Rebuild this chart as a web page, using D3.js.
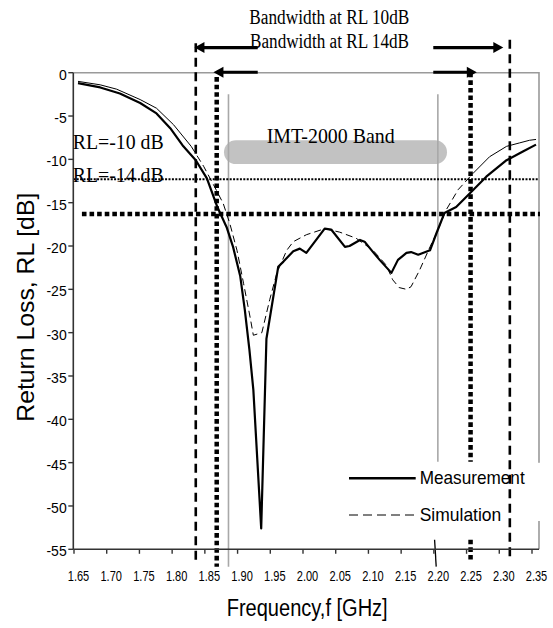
<!DOCTYPE html>
<html><head><meta charset="utf-8">
<script src="https://cdn.jsdelivr.net/npm/d3@7"></script>
<style>body{margin:0;background:#fff}svg{display:block}</style>
</head><body>
<script>
// ---- data ----
const measFreq = [1.65,1.684,1.714,1.745,1.770,1.791,1.811,1.830,1.847,1.863,1.877,1.887,1.898,1.905,1.912,1.918,1.930,1.938,1.956,1.964,1.979,1.989,1.999,2.027,2.037,2.058,2.065,2.081,2.088,2.101,2.111,2.129,2.139,2.152,2.159,2.170,2.188,2.198,2.210,2.228,2.249,2.274,2.305,2.330,2.350];
const measRL   = [-1.2,-1.7,-2.4,-3.5,-4.7,-6.4,-8.5,-10.1,-12.2,-15.5,-17.8,-20.1,-23.5,-27.4,-32.0,-36.6,-52.6,-30.7,-22.4,-21.8,-20.6,-20.3,-20.8,-18.0,-18.1,-20.1,-20.0,-19.3,-19.5,-20.7,-21.6,-23.1,-21.6,-20.8,-20.7,-21.0,-20.5,-18.5,-16.2,-15.5,-13.9,-12.0,-10.1,-9.1,-8.3];
const simFreq  = [1.65,1.684,1.709,1.745,1.770,1.796,1.823,1.842,1.859,1.872,1.882,1.893,1.903,1.913,1.918,1.931,1.943,1.954,1.969,1.979,1.999,2.027,2.050,2.075,2.101,2.121,2.131,2.141,2.152,2.159,2.172,2.188,2.198,2.213,2.231,2.254,2.279,2.305,2.325,2.340,2.350];
const simRL    = [-1.0,-1.4,-1.9,-3.1,-4.1,-6.0,-8.5,-10.8,-13.2,-15.1,-17.4,-20.5,-24.3,-28.2,-30.3,-30.0,-26.2,-23.1,-20.5,-19.5,-18.7,-18.0,-18.4,-19.1,-20.5,-22.2,-23.9,-24.8,-25.0,-24.7,-22.8,-20.1,-18.5,-15.8,-13.5,-11.6,-9.7,-8.5,-8.1,-7.8,-7.7];
const xTicks = [1.65,1.70,1.75,1.80,1.85,1.90,1.95,2.00,2.05,2.10,2.15,2.20,2.25,2.30,2.35];
const yTicks = [0,-5,-10,-15,-20,-25,-30,-35,-40,-45,-50,-55];
const seriesNames = ["Measurement","Simulation"];
const bandEdges = [1.88, 2.20];           // IMT-2000 band (GHz)
const bw10 = [1.83, 2.31];                // bandwidth at RL 10 dB
const bw14 = [1.862, 2.25];               // bandwidth at RL 14 dB
const rlLines = [-12.3, -16.3];           // RL reference levels drawn

const W = 553, H = 628;
const svg = d3.select("body").append("svg").attr("width", W).attr("height", H);
svg.append("rect").attr("width", W).attr("height", H).attr("fill", "#fff");

const x = d3.scaleLinear().domain([1.65, 2.35]).range([78, 536]);
const y = d3.scaleLinear().domain([-55, 0]).range([549.3, 72.7]);
const L = 73.3, R = 539, T = y(0), B = y(-55);
const serif = "'Liberation Serif','Times New Roman',serif";
const sans = "'Liberation Sans',Arial,sans-serif";

// plot border (gray top/right)
svg.append("path").attr("d", `M${L},${T}H${R}V${B}`).attr("fill","none").attr("stroke","#9a9a9a").attr("stroke-width",1.6);

// IMT band gray bar
svg.append("rect").attr("x", 224).attr("y", y(-7.8)).attr("width", 447-224).attr("height", y(-10.55)-y(-7.8))
  .attr("rx", 12).attr("fill", "#c2c2c2");

// band edge gray lines
svg.append("line").attr("x1", x(bandEdges[0])).attr("x2", x(bandEdges[0])).attr("y1", y(-2.5)).attr("y2", y(-57))
  .attr("stroke","#a8a8a8").attr("stroke-width",1.6);
svg.append("line").attr("x1", x(bandEdges[1])).attr("x2", x(bandEdges[1])).attr("y1", y(-2.5)).attr("y2", y(-44.9))
  .attr("stroke","#a8a8a8").attr("stroke-width",1.6);

// horizontal RL lines
svg.append("line").attr("x1", L).attr("x2", R).attr("y1", y(rlLines[0])).attr("y2", y(rlLines[0]))
  .attr("stroke","#000").attr("stroke-width",2).attr("stroke-dasharray","2,1.4");
svg.append("line").attr("x1", x(1.656)).attr("x2", R+1).attr("y1", y(rlLines[1])).attr("y2", y(rlLines[1]))
  .attr("stroke","#000").attr("stroke-width",4.5).attr("stroke-dasharray","4.6,3");

// thick dotted verticals (RL 14 dB)
svg.append("line").attr("x1", x(bw14[0])).attr("x2", x(bw14[0])).attr("y1", y(-0.5)).attr("y2", y(-57))
  .attr("stroke","#000").attr("stroke-width",4.5).attr("stroke-dasharray","4.6,3");
svg.append("line").attr("x1", x(bw14[1])).attr("x2", x(bw14[1])).attr("y1", y(0)).attr("y2", y(-44.9))
  .attr("stroke","#000").attr("stroke-width",4.5).attr("stroke-dasharray","4.6,3");
svg.append("line").attr("x1", x(bw14[1])).attr("x2", x(bw14[1])).attr("y1", y(-53.9)).attr("y2", y(-56.4))
  .attr("stroke","#000").attr("stroke-width",4.5).attr("stroke-dasharray","4.6,3");

// dashed left vertical (RL 10 dB)
svg.append("line").attr("x1", x(bw10[0])).attr("x2", x(bw10[0])).attr("y1", y(3.4)).attr("y2", y(-56.7))
  .attr("stroke","#000").attr("stroke-width",2.6).attr("stroke-dasharray","9,5.5");

// short slanted mark near 2.20
svg.append("line").attr("x1", x(2.195)).attr("x2", x(2.1975)).attr("y1", y(-53.9)).attr("y2", y(-57))
  .attr("stroke","#000").attr("stroke-width",1.3);

// curves
const line = d3.line().x(d => x(d[0])).y(d => y(d[1]));
const meas = measFreq.map((f,i) => [f, measRL[i]]);
const sim = simFreq.map((f,i) => [f, simRL[i]]);
svg.append("path").attr("d", line(sim.filter(d => d[0] <= 1.823))).attr("fill","none").attr("stroke","#000").attr("stroke-width",1);
svg.append("path").attr("d", line(sim.filter(d => d[0] >= 1.823 && d[0] <= 2.254))).attr("fill","none").attr("stroke","#000")
  .attr("stroke-width",1).attr("stroke-dasharray","7,4");
svg.append("path").attr("d", line(sim.filter(d => d[0] >= 2.254))).attr("fill","none").attr("stroke","#000").attr("stroke-width",1);
svg.append("path").attr("d", line(meas)).attr("fill","none").attr("stroke","#000").attr("stroke-width",2.2).attr("stroke-linejoin","round");

// legend box (white) and legend
svg.append("rect").attr("x", 345).attr("y", y(-44.9)+1).attr("width", R+3-345).attr("height", 521-(y(-44.9)+1)).attr("fill","#fff");
const legY = [478.3, 515];
svg.append("line").attr("x1",349).attr("x2",415.7).attr("y1",legY[0]).attr("y2",legY[0]).attr("stroke","#000").attr("stroke-width",2.4);
svg.append("line").attr("x1",349).attr("x2",415.7).attr("y1",legY[1]).attr("y2",legY[1]).attr("stroke","#000").attr("stroke-width",1).attr("stroke-dasharray","9,5");
svg.append("text").attr("x",419.7).attr("y",484.3).attr("font-family",sans).attr("font-size",19)
  .attr("textLength",105).attr("lengthAdjust","spacingAndGlyphs").text(seriesNames[0]);
svg.append("text").attr("x",419.7).attr("y",520.5).attr("font-family",sans).attr("font-size",19)
  .attr("textLength",81.6).attr("lengthAdjust","spacingAndGlyphs").text(seriesNames[1]);

// dashed right vertical (RL 10 dB) drawn over legend
svg.append("line").attr("x1", x(bw10[1])).attr("x2", x(bw10[1])).attr("y1", y(3.8)).attr("y2", y(-56))
  .attr("stroke","#000").attr("stroke-width",2.6).attr("stroke-dasharray","9,5.5");

// axes
svg.append("line").attr("x1",L).attr("x2",L).attr("y1",T).attr("y2",B).attr("stroke","#333").attr("stroke-width",1.6);
svg.append("line").attr("x1",L).attr("x2",R).attr("y1",B).attr("y2",B).attr("stroke","#333").attr("stroke-width",1.6);
const yAx = svg.append("g");
yTicks.forEach(v => {
  yAx.append("line").attr("x1",L-5).attr("x2",L).attr("y1",y(v)).attr("y2",y(v)).attr("stroke","#333").attr("stroke-width",1.4);
  yAx.append("text").attr("x",66.7).attr("y",y(v)+7).attr("text-anchor","end").attr("font-family",sans).attr("font-size",14).text(v);
});
const xAx = svg.append("g");
xTicks.forEach(v => {
  xAx.append("line").attr("x1",x(v)-4).attr("x2",x(v)-4).attr("y1",B).attr("y2",B+4.5).attr("stroke","#333").attr("stroke-width",1.4);
  xAx.append("text").attr("x",x(v)+0.5).attr("y",580.7).attr("text-anchor","middle").attr("font-family",sans).attr("font-size",14.5)
    .attr("textLength",21.5).attr("lengthAdjust","spacingAndGlyphs").text(v.toFixed(2));
});

// axis titles
svg.append("text").attr("transform","translate(33.5,421.7) rotate(-90)").attr("font-family",sans).attr("font-size",24)
  .attr("textLength",229).attr("lengthAdjust","spacingAndGlyphs").text("Return Loss, RL [dB]");
svg.append("text").attr("x",226.7).attr("y",615.5).attr("font-family",sans).attr("font-size",23)
  .attr("textLength",161).attr("lengthAdjust","spacingAndGlyphs").text("Frequency,f [GHz]");

// annotation texts
svg.append("text").attr("x",249.3).attr("y",24).attr("font-family",serif).attr("font-size",20)
  .attr("textLength",160).attr("lengthAdjust","spacingAndGlyphs").text("Bandwidth at RL 10dB");
svg.append("text").attr("x",250).attr("y",48).attr("font-family",serif).attr("font-size",20)
  .attr("textLength",159).attr("lengthAdjust","spacingAndGlyphs").text("Bandwidth at RL 14dB");
svg.append("text").attr("x",266.7).attr("y",143.3).attr("font-family",serif).attr("font-size",22)
  .attr("textLength",128).attr("lengthAdjust","spacingAndGlyphs").text("IMT-2000 Band");
svg.append("text").attr("x",72.7).attr("y",149).attr("font-family",serif).attr("font-size",21)
  .attr("textLength",91).attr("lengthAdjust","spacingAndGlyphs").text("RL=-10 dB");
svg.append("text").attr("x",72.7).attr("y",181.7).attr("font-family",serif).attr("font-size",21)
  .attr("textLength",91).attr("lengthAdjust","spacingAndGlyphs").text("RL=-14 dB");

// arrows
function arrow(xFrom, xTip, yv) {
  const yy = y(yv), dir = Math.sign(xTip - xFrom);
  svg.append("line").attr("x1", x(xFrom)).attr("x2", x(xTip) - dir*6).attr("y1", yy).attr("y2", yy)
    .attr("stroke","#000").attr("stroke-width",3.2);
  const tx = x(xTip);
  svg.append("path").attr("d", `M${tx},${yy}L${tx - dir*10},${yy-5.5}L${tx - dir*10},${yy+5.5}Z`).attr("fill","#000");
}
arrow(1.9247, 1.828, 2.9);
arrow(2.193, 2.300, 2.9);
arrow(1.9247, 1.857, 0.05);
arrow(2.193, 2.2595, 0.05);
</script>
</body></html>
